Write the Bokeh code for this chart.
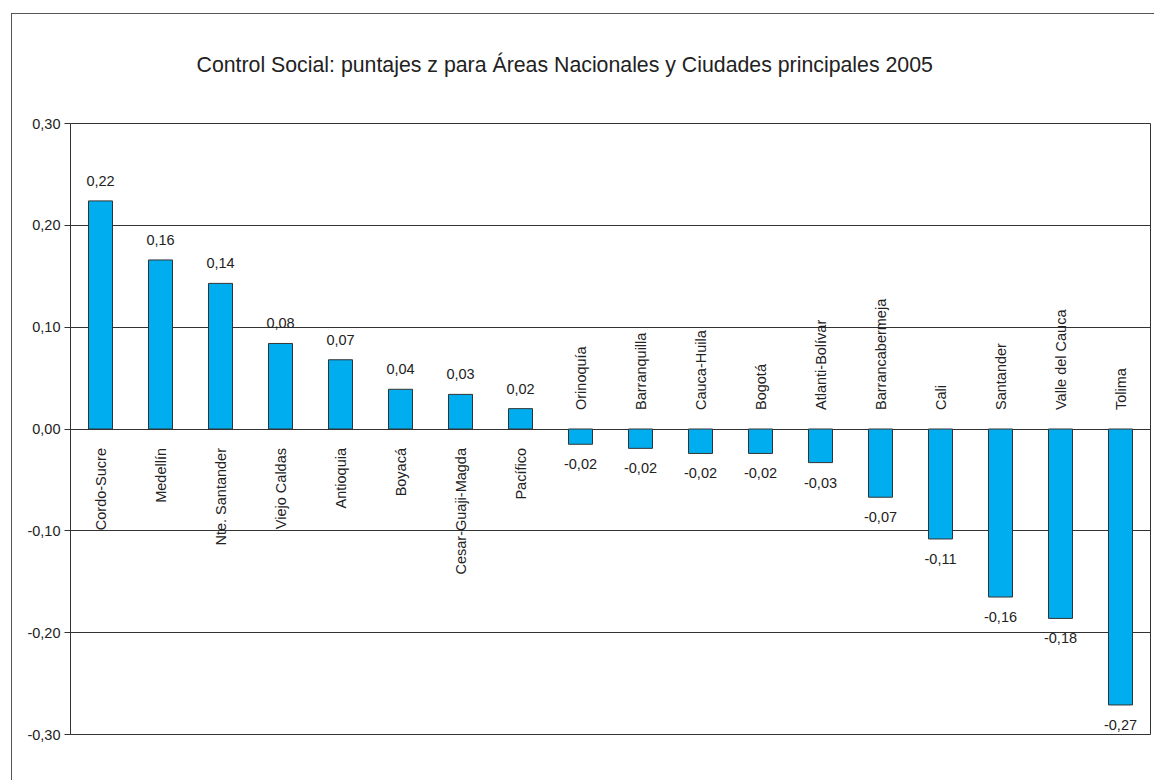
from bokeh.plotting import figure
from bokeh.models import (FactorRange, Range1d, FixedTicker, ColumnDataSource,
                          InlineStyleSheet)
from bokeh.core.properties import value
from bokeh.embed import file_html
from bokeh.resources import INLINE
import math

# ---- data ----
categories = ["Cordo-Sucre", "Medellín", "Nte. Santander", "Viejo Caldas", "Antioquia",
              "Boyacá", "Cesar-Guaji-Magda", "Pacífico", "Orinoquía", "Barranquilla",
              "Cauca-Huila", "Bogotá", "Atlanti-Bolívar", "Barrancabermeja", "Cali",
              "Santander", "Valle del Cauca", "Tolima"]
values = [0.224, 0.166, 0.143, 0.084, 0.068, 0.039, 0.034, 0.020, -0.015, -0.019,
          -0.024, -0.024, -0.033, -0.067, -0.108, -0.165, -0.186, -0.271]
value_labels = ["0,22", "0,16", "0,14", "0,08", "0,07", "0,04", "0,03", "0,02", "-0,02",
                "-0,02", "-0,02", "-0,02", "-0,03", "-0,07", "-0,11", "-0,16", "-0,18",
                "-0,27"]
y_ticks = [-0.3, -0.2, -0.1, 0.0, 0.1, 0.2, 0.3]
y_tick_labels = ["-0,30", "-0,20", "-0,10", "0,00", "0,10", "0,20", "0,30"]
title_text = "Control Social: puntajes z para Áreas Nacionales y Ciudades principales 2005"

FONT = value("Liberation Sans")
TXT = "#222222"

pos = [v >= 0 for v in values]
src = ColumnDataSource(dict(
    x=categories,
    top=values,
    zero=[0.0] * len(values),
    vlabel=value_labels,
    voff=[-20 if p_ else 20 for p_ in pos],
    calign=["right" if p_ else "left" for p_ in pos],
    coff=[19 if p_ else -19 for p_ in pos],
))

# outer chart-area border (left and top edges visible; the rest runs off the page)
css = InlineStyleSheet(css="""
:host::after {
  content: '';
  position: absolute;
  left: 11px; top: 13px;
  width: 3000px; height: 3000px;
  border-left: 1.5px solid #555555;
  border-top: 1.5px solid #555555;
  pointer-events: none;
}
""")

W, H = 1154, 780
p = figure(width=W, height=H, output_backend="svg", toolbar_location=None,
           x_range=FactorRange(factors=categories, range_padding=0),
           y_range=Range1d(-0.3, 0.3),
           x_axis_location=None,
           min_border_left=70, min_border_right=4, min_border_top=123,
           min_border_bottom=46, stylesheets=[css])

p.title.text = title_text
p.title.align = "left"
p.title.offset = 126
p.title.standoff = 94
p.title.text_font = "Liberation Sans"
p.title.text_font_size = "21.3px"
p.title.text_font_style = "normal"
p.title.text_color = TXT

p.background_fill_color = "white"
p.border_fill_color = "white"
p.outline_line_color = "#333333"
p.outline_line_width = 1

p.xgrid.visible = False
p.ygrid.ticker = FixedTicker(ticks=y_ticks)
p.ygrid.grid_line_color = "#333333"
p.ygrid.grid_line_width = 1

ya = p.yaxis[0]
ya.ticker = FixedTicker(ticks=y_ticks)
ya.major_label_overrides = {t: l for t, l in zip(y_ticks, y_tick_labels)}
ya.major_tick_out = 6
ya.major_tick_in = 0
ya.minor_tick_out = 0
ya.minor_tick_in = 0
ya.axis_line_color = "#333333"
ya.major_tick_line_color = "#333333"
ya.major_label_text_font = "Liberation Sans"
ya.major_label_text_font_size = "14.5px"
ya.major_label_text_color = TXT
ya.major_label_standoff = 4

p.vbar(x="x", top="top", bottom="zero", width=0.4, source=src,
       fill_color="#00AEEF", line_color="#333333", line_width=1)

p.text(x="x", y="top", text="vlabel", source=src, y_offset="voff",
       text_align="center", text_baseline="middle", text_font=FONT,
       text_font_size="14.5px", text_color=TXT)

p.text(x="x", y="zero", text="x", source=src, y_offset="coff", angle=math.pi / 2,
       text_align="calign", text_baseline="middle", text_font=FONT,
       text_font_size="14.5px", text_color=TXT)

open("out.html", "w").write(file_html(p, INLINE))
